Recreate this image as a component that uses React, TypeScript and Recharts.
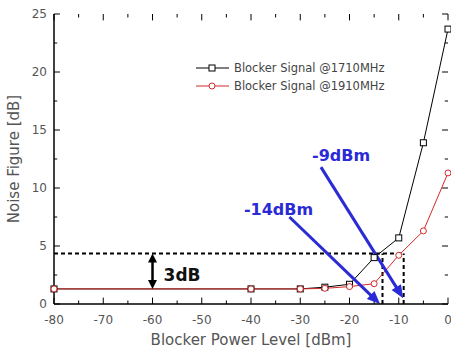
import React from "react";
import { LineChart, Line, XAxis, YAxis, Legend, ReferenceLine, ReferenceDot } from "recharts";

// Blocker power level [dBm] and noise figure [dB]
const blockerPower = [-80, -40, -30, -25, -20, -15, -10, -5, 0];
const nf1710 = [1.3, 1.3, 1.3, 1.45, 1.7, 4.0, 5.7, 13.9, 23.7];
const nf1910 = [1.3, 1.3, 1.3, 1.35, 1.5, 1.75, 4.2, 6.3, 11.3];

const xTicks = [-80, -75, -70, -65, -60, -55, -50, -45, -40, -35, -30, -25, -20, -15, -10, -5, 0];
const yTicks = [0, 2.5, 5, 7.5, 10, 12.5, 15, 17.5, 20, 22.5, 25];

// annotation values
const nfLimit = 4.35;
const blocker1710 = -13.3;
const blocker1910 = -9;

const data = blockerPower.map((p, i) => ({ p, a: nf1710[i], b: nf1910[i] }));

const FONT = "'DejaVu Sans', sans-serif";
const BLUE = "#2a2ad6";
const RED = "#d42a2a";

const xFmt = (v: number) => (v % 10 === 0 ? String(v) : "");
const yFmt = (v: number) => (v % 5 === 0 ? String(v) : "");

const tickStyle = { fontSize: 12, fill: "#555", fontFamily: FONT };
const axisLine = { stroke: "#000", strokeWidth: 1.5 };

// inward tick marks, length in axis units (major / minor)
const xTickLen = (v: number) => (v % 10 === 0 ? 0.55 : 0.3);
const yTickLen = (v: number) => (v % 5 === 0 ? 1.2 : 0.65);

const SquareDot = (props: any) => {
  const { cx, cy, index } = props;
  if (cx == null || cy == null) return <g key={index} />;
  return <rect key={index} x={cx - 3} y={cy - 3} width={6} height={6} fill="#fff" stroke="#000" strokeWidth={1} />;
};

const CircleDot = (props: any) => {
  const { cx, cy, index } = props;
  if (cx == null || cy == null) return <g key={index} />;
  return <circle key={index} cx={cx} cy={cy} r={3} fill="#fff" stroke={RED} strokeWidth={1} />;
};

const arrow = (color: string, width: number, headLen: number, headW: number, both: boolean) => (props: any) => {
  const { x1, y1, x2, y2 } = props;
  const ang = Math.atan2(y2 - y1, x2 - x1);
  const c = Math.cos(ang);
  const s = Math.sin(ang);
  const head = (tx: number, ty: number, dir: number) => {
    const bx = tx - dir * c * headLen;
    const by = ty - dir * s * headLen;
    return `${tx},${ty} ${bx - s * headW / 2},${by + c * headW / 2} ${bx + s * headW / 2},${by - c * headW / 2}`;
  };
  const sx = both ? x1 + c * headLen * 0.8 : x1;
  const sy = both ? y1 + s * headLen * 0.8 : y1;
  return (
    <g>
      <line x1={sx} y1={sy} x2={x2 - c * headLen * 0.8} y2={y2 - s * headLen * 0.8} stroke={color} strokeWidth={width} />
      <polygon points={head(x2, y2, 1)} fill={color} />
      {both && <polygon points={head(x1, y1, -1)} fill={color} />}
    </g>
  );
};

const legendItems = [
  { name: "Blocker Signal @1710MHz", color: "#000", square: true },
  { name: "Blocker Signal @1910MHz", color: RED, square: false },
];

const renderLegend = () => (
  <div style={{ fontFamily: FONT, fontSize: 11.5, color: "#444", lineHeight: "18px", whiteSpace: "nowrap" }}>
    {legendItems.map((it) => (
      <div key={it.name} style={{ display: "flex", alignItems: "center" }}>
        <svg width={36} height={10} style={{ marginRight: 3 }}>
          <line x1={1} y1={5} x2={34} y2={5} stroke={it.color} />
          {it.square ? (
            <rect x={14} y={2} width={6} height={6} fill="#fff" stroke={it.color} />
          ) : (
            <circle cx={17} cy={5} r={3} fill="#fff" stroke={it.color} />
          )}
        </svg>
        <span>{it.name}</span>
      </div>
    ))}
  </div>
);

export default function App() {
  return (
    <div style={{ position: "absolute", left: 0, top: 0, background: "#fff" }}>
      <LineChart width={451} height={348} data={data} margin={{ top: 14, right: 3, bottom: 0, left: 0 }}>
        <XAxis
          dataKey="p"
          type="number"
          domain={[-80, 0]}
          ticks={xTicks}
          interval={0}
          height={44}
          tickSize={0}
          tickMargin={11}
          tickFormatter={xFmt}
          tick={tickStyle}
          tickLine={false}
          axisLine={axisLine}
          label={{ value: "Blocker Power Level [dBm]", position: "insideBottom", offset: 3, fontSize: 15, fill: "#555", fontFamily: FONT }}
        />
        <XAxis
          xAxisId="top"
          dataKey="p"
          type="number"
          orientation="top"
          domain={[-80, 0]}
          height={0}
          tick={false}
          tickLine={false}
          axisLine={axisLine}
        />
        <YAxis
          type="number"
          domain={[0, 25]}
          ticks={yTicks}
          interval={0}
          width={54}
          tickSize={0}
          tickMargin={7}
          tickFormatter={yFmt}
          tick={tickStyle}
          tickLine={false}
          axisLine={axisLine}
          label={{ value: "Noise Figure [dB]", angle: -90, position: "insideLeft", offset: 14, fontSize: 15, fill: "#555", fontFamily: FONT, style: { textAnchor: "middle" } }}
        />
        <YAxis
          yAxisId="right"
          orientation="right"
          type="number"
          domain={[0, 25]}
          width={0}
          tick={false}
          tickLine={false}
          axisLine={axisLine}
        />
        <Legend
          layout="vertical"
          align="center"
          verticalAlign="middle"
          content={renderLegend}
          wrapperStyle={{ left: 195, top: 59, width: "auto" }}
        />
        {xTicks.map((v) => (
          <ReferenceLine key={`xb${v}`} segment={[{ x: v, y: 0 }, { x: v, y: xTickLen(v) }]} stroke="#000" strokeWidth={1} ifOverflow="extendDomain" />
        ))}
        {xTicks.map((v) => (
          <ReferenceLine key={`xt${v}`} segment={[{ x: v, y: 25 }, { x: v, y: 25 - xTickLen(v) }]} stroke="#000" strokeWidth={1} ifOverflow="extendDomain" />
        ))}
        {yTicks.map((v) => (
          <ReferenceLine key={`yl${v}`} segment={[{ x: -80, y: v }, { x: -80 + yTickLen(v), y: v }]} stroke="#000" strokeWidth={1} ifOverflow="extendDomain" />
        ))}
        {yTicks.map((v) => (
          <ReferenceLine key={`yr${v}`} segment={[{ x: 0, y: v }, { x: -yTickLen(v), y: v }]} stroke="#000" strokeWidth={1} ifOverflow="extendDomain" />
        ))}
        <ReferenceLine
          segment={[{ x: -80, y: nfLimit }, { x: blocker1910, y: nfLimit }]}
          stroke="#000"
          strokeWidth={2}
          strokeDasharray="4 3"
        />
        <ReferenceLine
          segment={[{ x: blocker1710, y: 0 }, { x: blocker1710, y: nfLimit }]}
          stroke="#000"
          strokeWidth={2}
          strokeDasharray="4 3"
        />
        <ReferenceLine
          segment={[{ x: blocker1910, y: 0 }, { x: blocker1910, y: nfLimit }]}
          stroke="#000"
          strokeWidth={2}
          strokeDasharray="4 3"
        />
        <Line
          dataKey="a"
          stroke="#000"
          strokeWidth={1}
          dot={<SquareDot />}
          activeDot={false}
          isAnimationActive={false}
        />
        <Line
          dataKey="b"
          stroke={RED}
          strokeWidth={1}
          dot={<CircleDot />}
          activeDot={false}
          isAnimationActive={false}
        />
        <ReferenceLine
          segment={[{ x: -60, y: 1.3 }, { x: -60, y: nfLimit }]}
          shape={arrow("#000", 2.5, 9, 9, true)}
        />
        <ReferenceLine
          segment={[{ x: -25.8, y: 11.8 }, { x: -9.1, y: 0.5 }]}
          shape={arrow(BLUE, 3, 13, 11, false)}
        />
        <ReferenceLine
          segment={[{ x: -32.2, y: 7.5 }, { x: -13.8, y: 0 }]}
          shape={arrow(BLUE, 3, 13, 11, false)}
        />
        <ReferenceDot
          x={-54}
          y={2.5}
          r={0}
          fill="none"
          stroke="none"
          label={{ value: "3dB", position: "center", fontSize: 17, fontWeight: "bold", fill: "#111", fontFamily: FONT }}
        />
        <ReferenceDot
          x={-21.7}
          y={12.8}
          r={0}
          fill="none"
          stroke="none"
          label={{ value: "-9dBm", position: "center", fontSize: 16, fontWeight: "bold", fill: BLUE, fontFamily: FONT }}
        />
        <ReferenceDot
          x={-34.4}
          y={8.2}
          r={0}
          fill="none"
          stroke="none"
          label={{ value: "-14dBm", position: "center", fontSize: 16, fontWeight: "bold", fill: BLUE, fontFamily: FONT }}
        />
      </LineChart>
    </div>
  );
}
